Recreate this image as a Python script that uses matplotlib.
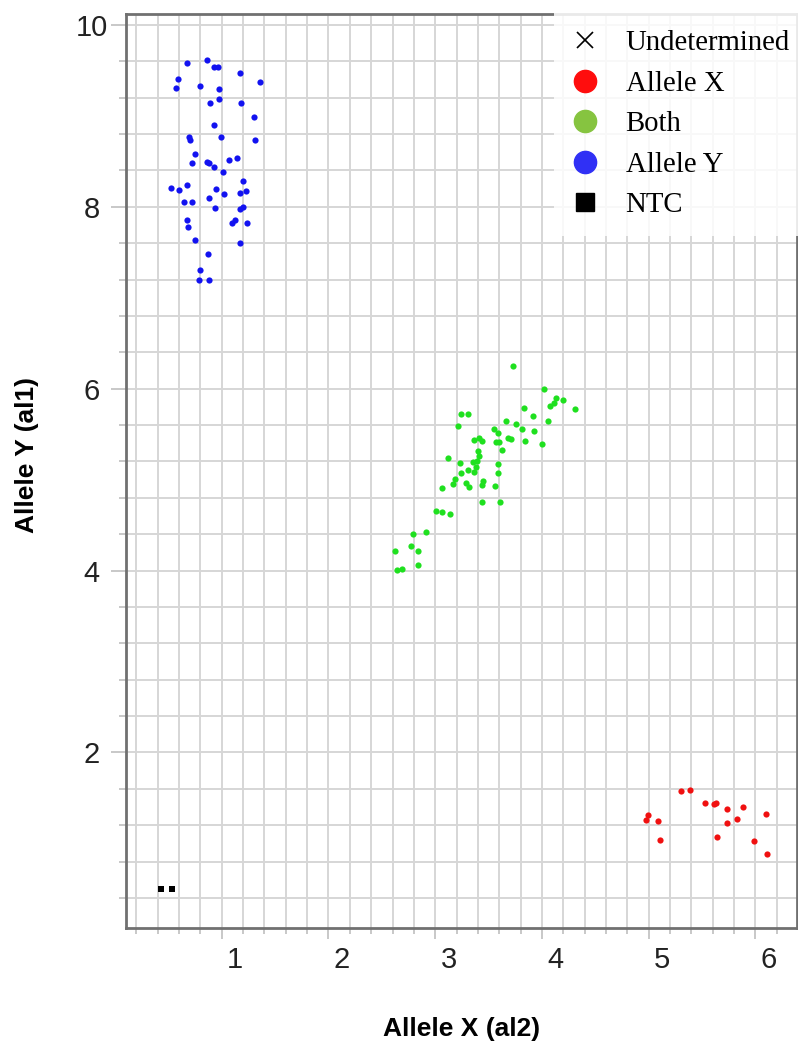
import numpy as np
import matplotlib.pyplot as plt
from matplotlib.lines import Line2D
from matplotlib.transforms import ScaledTranslation

# cluster data
blue_x = [0.67, 0.86, 0.93, 0.96, 1.17, 0.59, 0.57, 0.80, 0.97, 1.36, 0.97, 0.89, 1.18,
          1.30, 0.93, 0.69, 0.70, 0.99, 1.31, 0.75, 0.72, 0.86, 0.88, 0.93, 1.07, 1.14,
          1.01, 1.20, 0.52, 0.60, 0.67, 0.95, 1.02, 0.88, 1.17, 1.23, 0.65, 0.72, 0.94,
          1.17, 1.20, 1.12, 1.10, 1.24, 0.67, 0.68, 0.75, 1.17, 0.87, 0.80, 0.79, 0.88]
blue_y = [9.58, 9.61, 9.54, 9.54, 9.47, 9.40, 9.31, 9.33, 9.30, 9.37, 9.19, 9.14, 9.14,
          8.99, 8.90, 8.77, 8.73, 8.77, 8.73, 8.58, 8.48, 8.49, 8.48, 8.44, 8.52, 8.54,
          8.38, 8.28, 8.21, 8.18, 8.24, 8.20, 8.14, 8.10, 8.15, 8.17, 8.05, 8.05, 7.99,
          7.98, 8.00, 7.86, 7.82, 7.82, 7.85, 7.78, 7.64, 7.60, 7.48, 7.30, 7.20, 7.20]

green_x = [3.73, 4.02, 4.13, 4.20, 4.11, 4.08, 4.31, 3.83, 3.92, 4.06, 3.24, 3.31, 3.21,
           3.66, 3.76, 3.81, 3.93, 3.55, 3.59, 3.68, 3.71, 3.84, 4.00, 3.36, 3.41, 3.44,
           3.57, 3.60, 3.63, 3.40, 3.41, 3.12, 3.39, 3.35, 3.23, 3.59, 3.38, 3.31, 3.24,
           3.36, 3.59, 3.19, 3.45, 3.29, 3.17, 3.56, 3.32, 3.44, 3.06, 3.44, 3.61, 3.01,
           3.06, 3.14, 2.79, 2.91, 2.77, 2.84, 2.62, 2.84, 2.64, 2.69]
green_y = [6.25, 6.00, 5.90, 5.88, 5.84, 5.81, 5.78, 5.79, 5.70, 5.65, 5.72, 5.72, 5.59,
           5.65, 5.61, 5.56, 5.53, 5.56, 5.51, 5.46, 5.45, 5.42, 5.39, 5.44, 5.46, 5.43,
           5.41, 5.41, 5.33, 5.32, 5.26, 5.24, 5.21, 5.19, 5.18, 5.17, 5.14, 5.11, 5.07,
           5.08, 5.07, 5.01, 4.99, 4.96, 4.95, 4.93, 4.92, 4.94, 4.91, 4.75, 4.75, 4.65,
           4.64, 4.62, 4.40, 4.42, 4.27, 4.21, 4.21, 4.06, 4.01, 4.02]

red_x = [4.99, 4.98, 5.09, 5.11, 5.53, 5.61, 5.63, 5.73, 5.88, 6.10, 5.83, 5.73, 5.64,
         5.99, 6.11, 5.30, 5.39]
red_y = [1.31, 1.26, 1.25, 1.04, 1.44, 1.43, 1.45, 1.38, 1.40, 1.32, 1.27, 1.22, 1.07,
         1.03, 0.88, 1.58, 1.59]

ntc_x = [0.43, 0.53]
ntc_y = [0.50, 0.50]

legend_labels = ["Undetermined", "Allele X", "Both", "Allele Y", "NTC"]

fig = plt.figure(figsize=(7.98, 10.46), dpi=100)
ax = fig.add_axes([0.1585, 0.1128, 0.8402, 0.8738])

ax.scatter(blue_x, blue_y, s=20, c='#1212f0', linewidths=0, zorder=3)
ax.scatter(green_x, green_y, s=20, c='#1fe01f', linewidths=0, zorder=3)
ax.scatter(red_x, red_y, s=20, c='#f01010', linewidths=0, zorder=3)
ax.scatter(ntc_x, ntc_y, s=22, c='black', marker='s', linewidths=0, zorder=3)

ax.set_xlim(0.107, 6.39)
ax.set_ylim(0.07, 10.12)
ax.set_xticks(range(1, 7))
ax.set_xticks(np.arange(0.2, 6.39, 0.2), minor=True)
ax.set_yticks(range(2, 11, 2))
ax.set_yticks(np.arange(0.4, 10.1, 0.4), minor=True)
ax.set_axisbelow(True)
ax.grid(which='both', color='#d6d6d6', lw=1.4)

tick_font = ['Liberation Sans Narrow', 'Liberation Sans', 'DejaVu Sans']
ax.tick_params(which='major', color='#c4c4c4', width=1.3, labelsize=21, labelcolor='#222222')
ax.tick_params(which='minor', color='#c4c4c4', width=1.3)
ax.tick_params(axis='x', which='major', length=8, pad=5)
ax.tick_params(axis='x', which='minor', length=4)
ax.tick_params(axis='y', which='major', length=11, pad=14)
ax.tick_params(axis='y', which='minor', length=5)
shift = ScaledTranslation(0.135, 0, fig.dpi_scale_trans)
for lab in ax.get_xticklabels():
    lab.set_family(tick_font)
    lab.set_transform(lab.get_transform() + shift)
for lab in ax.get_yticklabels():
    lab.set_family(tick_font)
    lab.set_horizontalalignment('center')

for sp in ax.spines.values():
    sp.set_color('#707070')
    sp.set_linewidth(2)

ax.set_xlabel("Allele X (al2)", fontsize=19, fontweight='bold', family='Liberation Sans', va='center')
ax.xaxis.set_label_coords(0.5, -0.111)
ax.set_ylabel("Allele Y (al1)", fontsize=19, fontweight='bold', family='Liberation Sans', va='center')
ax.yaxis.set_label_coords(-0.148, 0.5175)

handles = [
    Line2D([], [], ls='none', marker='x', color='black', markersize=12, markeredgewidth=1.2),
    Line2D([], [], ls='none', marker='o', color='#ff0d0d', markersize=16),
    Line2D([], [], ls='none', marker='o', color='#86c440', markersize=16),
    Line2D([], [], ls='none', marker='o', color='#3030f5', markersize=16),
    Line2D([], [], ls='none', marker='s', color='black', markersize=13),
]
leg = ax.legend(handles, legend_labels, loc='upper right', bbox_to_anchor=(1.015, 1.001),
                borderaxespad=0, borderpad=0.6, handlelength=1.0, handletextpad=0.9,
                labelspacing=0.5, frameon=True, fancybox=False, framealpha=0.85,
                prop={'family': 'Liberation Serif', 'size': 20.7})
leg.get_frame().set_edgecolor('none')
leg.get_frame().set_facecolor('white')

fig.savefig('out.png', dpi=100)
